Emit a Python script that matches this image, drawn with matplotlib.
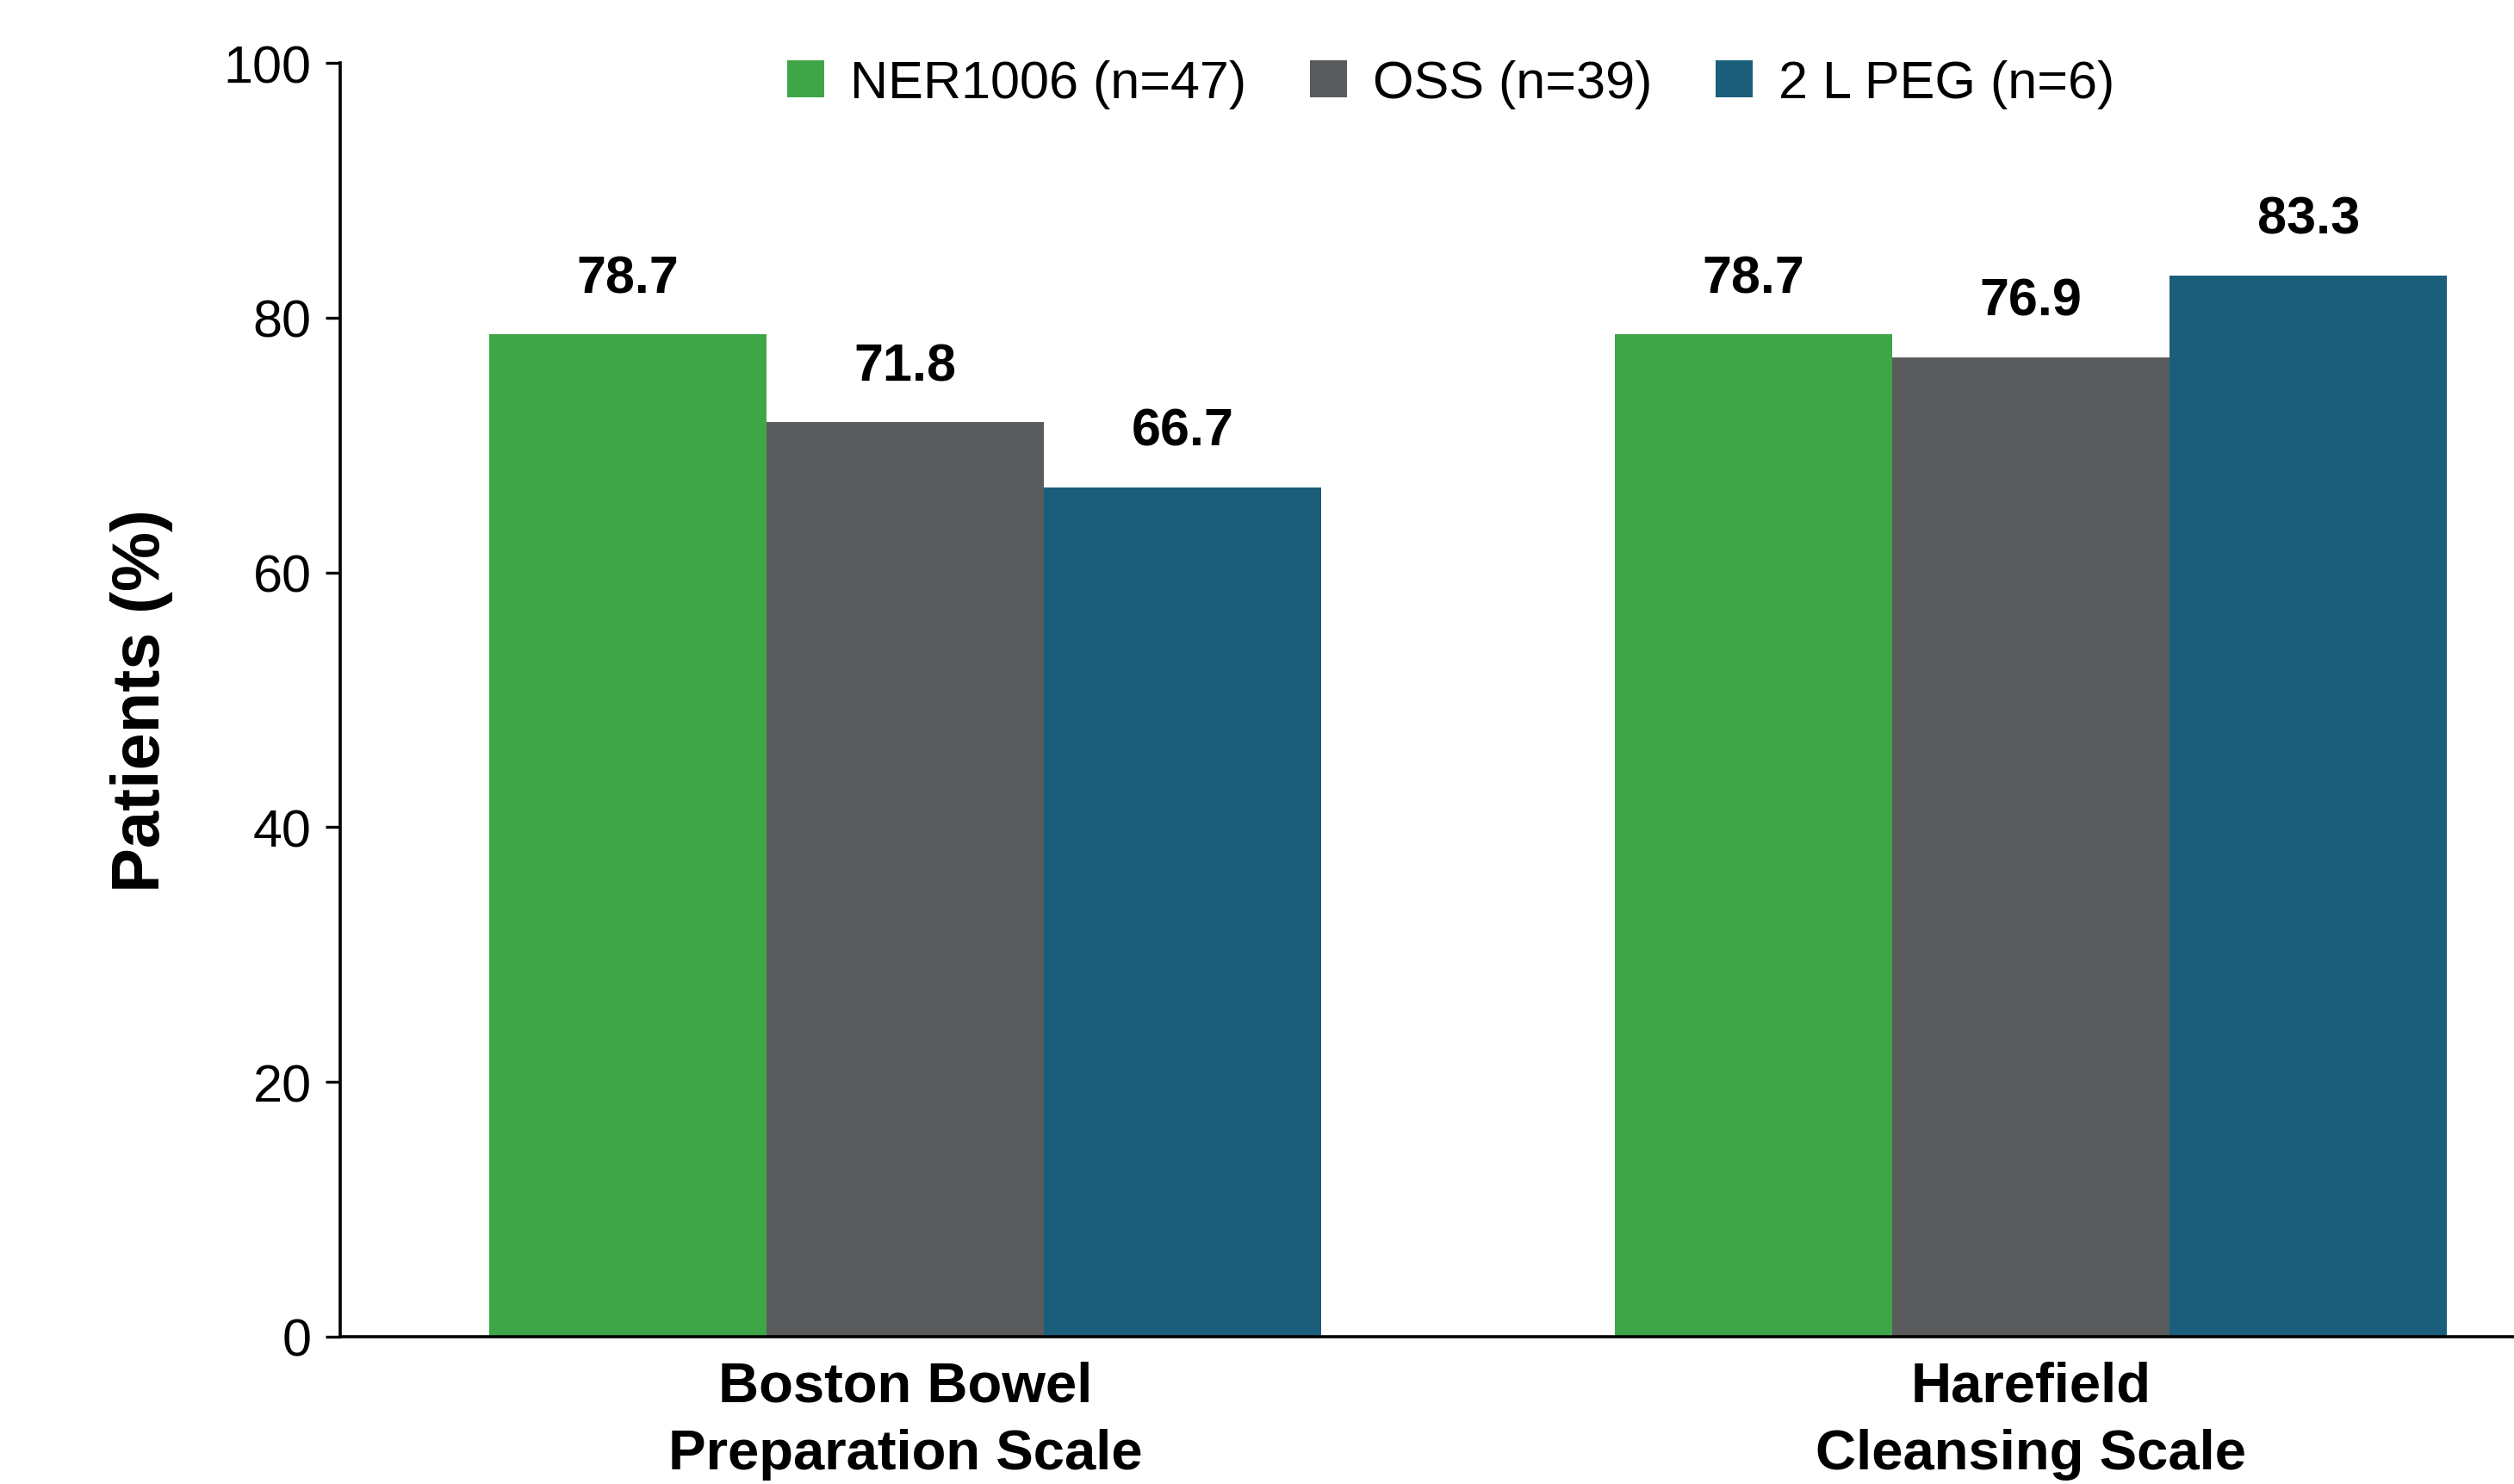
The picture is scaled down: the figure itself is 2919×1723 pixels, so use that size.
import numpy as np
import matplotlib.pyplot as plt
from matplotlib import font_manager

# datos del grafico
categorias = ["Boston Bowel\nPreparation Scale", "Harefield\nCleansing Scale"]
grupos = ["NER1006 (n=47)", "OSS (n=39)", "2 L PEG (n=6)"]
valores = {
    "NER1006 (n=47)": [78.7, 78.7],
    "OSS (n=39)": [71.8, 76.9],
    "2 L PEG (n=6)": [66.7, 83.3],
}
colores = ["#3FA648", "#5A5B5D", "#1B5E7B"]
yticks = [0, 20, 40, 60, 80, 100]

nombres = {f.name for f in font_manager.fontManager.ttflist}
fuente = "Liberation Sans Narrow" if "Liberation Sans Narrow" in nombres else "Liberation Sans"
plt.rcParams['font.family'] = [fuente, 'DejaVu Sans']

fig = plt.figure(figsize=(14.595, 8.62), dpi=200)
ax = fig.add_axes([0.1353, 0.0992, 0.8647, 0.8578])

x = np.arange(len(categorias))
ancho = 0.2464
for i, g in enumerate(grupos):
    pos = x + (i - 1) * ancho
    barras = ax.bar(pos, valores[g], ancho, color=colores[i], label=g)
    for b, v in zip(barras, valores[g]):
        ax.annotate(f"{v:.1f}", (b.get_x() + b.get_width() / 2, v),
                    xytext=(0, 13), textcoords="offset points",
                    ha="center", va="bottom", fontsize=22, fontweight="bold")

ax.set_xlim(-0.502, 1.429)
ax.set_ylim(0, 100)
ax.set_yticks(yticks)
ax.set_yticklabels([str(t) for t in yticks], fontsize=22)
ax.set_xticks(x)
ax.set_xticklabels(categorias, fontsize=23.5, fontweight="bold", linespacing=1.38)
ax.tick_params(axis="x", length=0, pad=10)
ax.tick_params(axis="y", length=6, width=1.2, pad=6)
ax.set_ylabel("Patients (%)", fontsize=28, fontweight="bold", labelpad=21)

for s in ["top", "right"]:
    ax.spines[s].set_visible(False)
for s in ["left", "bottom"]:
    ax.spines[s].set_linewidth(1.3)

ax.legend(loc="upper center", bbox_to_anchor=(0.511, 1.04), ncol=3, frameon=False,
          fontsize=22, handlelength=0.7, handleheight=0.7, handletextpad=0.5,
          columnspacing=1.2)

fig.savefig("out.png", dpi=200)
